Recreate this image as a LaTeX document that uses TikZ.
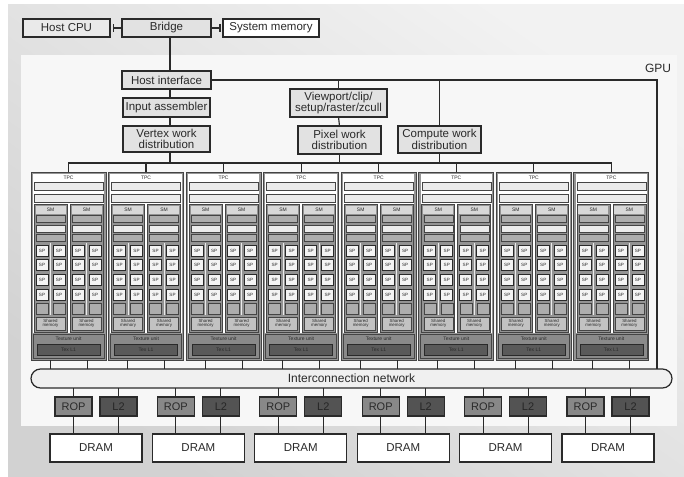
\documentclass[tikz,border=0pt]{standalone}
\usepackage{fontspec}
\setmainfont{Liberation Sans}
\usetikzlibrary{arrows.meta}
\definecolor{ink}{HTML}{2A2A2A}
\definecolor{bgtop}{HTML}{F2F2F2}
\definecolor{bgbot}{HTML}{D2D2D2}
\definecolor{panelfill}{HTML}{F7F7F7}
\definecolor{boxfill}{HTML}{E2E2E2}
\definecolor{cpufill}{HTML}{EAEAEA}
\definecolor{tpcgray}{HTML}{959595}
\definecolor{tpcline}{HTML}{444444}
\definecolor{smgray}{HTML}{939393}
\definecolor{barmid}{HTML}{ADADAD}
\definecolor{barlt}{HTML}{EBEBEB}
\definecolor{smhead}{HTML}{D8D8D8}
\definecolor{spfill}{HTML}{F4F4F4}
\definecolor{shmem}{HTML}{C2C2C2}
\definecolor{texgray}{HTML}{8A8A8A}
\definecolor{texdark}{HTML}{5A5A5A}
\definecolor{ropfill}{HTML}{888888}
\definecolor{ltwofill}{HTML}{535353}
\definecolor{netfill}{HTML}{F0F0F0}
\newcommand\bx[7]{%
 \pgfmathsetmacro\bxw{(#4)-(#2)}%
 \pgfmathsetmacro\bxh{(#5)-(#3)}%
 \node[#6,anchor=north west,inner sep=0pt,outer sep=0pt,minimum width=\bxw pt,minimum height=\bxh pt] (#1) at (#2,#3) {#7};}
\begin{document}
\begin{tikzpicture}[x=1pt,y=-1pt,
 topbox/.style={draw=ink,fill=boxfill,line width=1.2pt,align=center,text=ink,font=\fontsize{11.5}{10.5}\selectfont},
 conn/.style={draw=ink,line width=1.15pt},
 thinconn/.style={draw=ink,line width=0.9pt},
 tpcbox/.style={draw=tpcline,fill=tpcgray,line width=0.8pt},
 smcol/.style={draw=tpcline,fill=smgray,line width=0.7pt},
 barm/.style={draw=tpcline,fill=barmid,line width=0.5pt},
 barl/.style={draw=tpcline,fill=barlt,line width=0.5pt},
 spbox/.style={draw=ink,fill=spfill,line width=0.65pt,inner sep=0pt,minimum width=12pt,minimum height=11pt,font=\fontsize{4.6}{4.6}\selectfont,text=ink},
 tinytext/.style={font=\fontsize{5}{5}\selectfont,text=ink,inner sep=0pt},
 netbox/.style={draw=ink,fill=netfill,line width=1.2pt,rounded corners=9.5pt,text=ink,font=\fontsize{12}{12}\selectfont},
 dram/.style={draw=ink,fill=white,line width=1.2pt,text=ink,font=\fontsize{11.5}{11.5}\selectfont},
 rop/.style={draw=ink,fill=ropfill,line width=1.2pt,text=ink,font=\fontsize{11}{11}\selectfont},
 ltwo/.style={draw=ink,fill=ltwofill,line width=1.2pt,text=ink!90!black,font=\fontsize{11}{11}\selectfont}]
\fill[white] (0,0) rectangle (684,476);
\useasboundingbox (0,0) rectangle (684,476);
\shade[top color=bgtop,bottom color=bgbot,shading angle=-35] (8,5) rectangle (684,476);
\fill[panelfill] (21,55) rectangle (677,426);
% top boxes
\bx{hostcpu}{23}{19}{110}{37}{topbox,fill=cpufill}{Host CPU}
\bx{bridge}{122}{19}{211}{37}{topbox}{Bridge}
\bx{sysmem}{223}{19}{319}{37}{topbox,fill=white}{System memory}
\draw[conn,{Bar[width=8pt]}-] ([xshift=2.5pt]hostcpu.east) -- (bridge.west);
\draw[conn,-{Bar[width=8pt]}] (bridge.east) -- ([xshift=-2.5pt]sysmem.west);
\node[text=ink,font=\fontsize{12}{12}\selectfont] (gpu) at (658,68) {GPU};
\bx{hostif}{122}{71}{211}{89}{topbox}{Host interface}
\bx{ia}{123}{98}{210}{117}{topbox}{Input assembler}
\bx{vwd}{123}{126}{210}{152}{topbox}{Vertex work\\distribution}
\bx{vp}{290}{89}{387}{117}{topbox}{Viewport/clip/\\setup/raster/zcull}
\bx{pwd}{298}{126}{381}{154}{topbox}{Pixel work\\distribution}
\bx{cwd}{398}{126}{481}{153}{topbox}{Compute work\\distribution}
\coordinate (vx) at (170,0);
\coordinate (busy) at (0,163);
\coordinate (hiR) at (657,80);
\draw[conn] (bridge.south -| vx) -- (hostif.north -| vx);
\draw[conn] (hostif.south -| vx) -- (ia.north -| vx);
\draw[conn] (ia.south -| vx) -- (vwd.north -| vx);
\draw[conn] (vwd.south -| vx) -- (busy -| vx);
\draw[conn] (vp.north) -- (vp.north |- hiR);
\draw[conn] (vp.south) -- (pwd.north);
\draw[conn] (pwd.south) -- (pwd.south |- busy);
\draw[conn] (cwd.north) -- (cwd.north |- hiR);
\draw[conn] (cwd.south) -- (cwd.south |- busy);
% interconnection network
\bx{net}{31}{369}{672}{388}{netbox}{Interconnection network}
\draw[conn] (hostif.east) -- (hiR) -- (hiR |- net.north);
% TPCs
\foreach \i in {0,...,7}{
 \pgfmathsetmacro\tx{31+77.55*\i}
 \begin{scope}[shift={(\tx,172)}]
  \bx{tpc\i}{0}{0}{75}{188}{tpcbox}{}
  \fill[white] (1.8,1.8) rectangle (73.2,160.5);
  \node[tinytext] (tpclab\i) at (37.5,5.5) {TPC};
  \draw[barl] (3,10) rectangle (72,18);
  \draw[barl] (3,22) rectangle (72,30);
  \foreach \j in {0,1}{
   \pgfmathsetmacro\sx{3+36*\j}
   \draw[smcol] (\sx,32) rectangle (\sx+33,160);
   \fill[smhead] (\sx+1.5,33.5) rectangle (\sx+31.5,41.5);
   \node[tinytext] at (\sx+16.5,37.5) {SM};
   \draw[barm] (\sx+2,43) rectangle (\sx+31,50);
   \draw[barl] (\sx+2,53) rectangle (\sx+31,60);
   \draw[barm] (\sx+2,62) rectangle (\sx+31,69);
   \draw[draw=barlt,line width=0.8pt] (\sx+16.5,71) -- (\sx+16.5,143);
   \foreach \r in {0,...,3}{
    \pgfmathsetmacro\sy{78.5+14.7*\r}
    \node[spbox] at (\sx+8,\sy) {SP};
    \node[spbox] at (\sx+25,\sy) {SP};
   }
   \draw[barm] (\sx+2,131) rectangle (\sx+14,142);
   \draw[barm] (\sx+19,131) rectangle (\sx+31,142);
   \draw[draw=tpcline,fill=shmem,line width=0.5pt] (\sx+2,145) rectangle (\sx+31,158);
   \node[tinytext,align=center,font=\fontsize{4.4}{4.4}\selectfont] at (\sx+16.5,151.5) {Shared\\memory};
  }
  \draw[draw=tpcline,fill=texgray,line width=0.7pt] (2,162) rectangle (73,186);
  \node[tinytext] at (37.5,167) {Texture unit};
  \draw[draw=ink,fill=texdark,line width=0.6pt] (6,172) rectangle (69,183);
  \node[tinytext] at (37.5,177.5) {Tex L1};
  \coordinate (tpcL\i) at (19,188);
  \coordinate (tpcR\i) at (56,188);
 \end{scope}
 \draw[thinconn] (tpcL\i) -- (tpcL\i |- net.north);
 \draw[thinconn] (tpcR\i) -- (tpcR\i |- net.north);
}
\draw[conn] (tpc0.north) -- (tpc0.north |- busy) -- (tpc7.north |- busy) -- (tpc7.north);
\foreach \i in {1,...,6}{\draw[conn] (tpc\i.north) -- (tpc\i.north |- busy);}
% ROP / L2 / DRAM
\foreach \k in {0,...,5}{
 \pgfmathsetmacro\dx{50+102.4*\k}
 \bx{dram\k}{\dx}{434}{\dx+92}{462}{dram}{DRAM}
 \bx{rop\k}{\dx+5}{397}{\dx+42}{416}{rop}{ROP}
 \bx{ltwo\k}{\dx+50}{397}{\dx+87}{416}{ltwo}{L2}
 \draw[conn] (rop\k.north) -- (rop\k.north |- net.south);
 \draw[conn] (ltwo\k.north) -- (ltwo\k.north |- net.south);
 \draw[conn] (rop\k.south) -- (rop\k.south |- dram\k.north);
 \draw[conn] (ltwo\k.south) -- (ltwo\k.south |- dram\k.north);
}
\end{tikzpicture}
\end{document}
